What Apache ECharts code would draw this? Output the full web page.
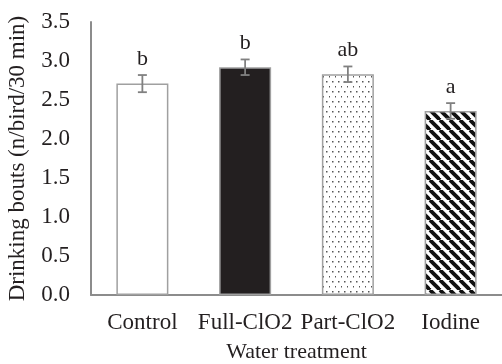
<!DOCTYPE html>
<html><head><meta charset="utf-8">
<script src="https://cdn.jsdelivr.net/npm/echarts@6/dist/echarts.min.js"></script>
<style>html,body{margin:0;padding:0;background:#fff}#c{width:502px;height:364px}</style>
</head><body><div id="c"></div>
<script>
var categories = ['Control', 'Full-ClO2', 'Part-ClO2', 'Iodine'];
var means = [2.71, 2.92, 2.83, 2.36];
var errors = [0.11, 0.10, 0.10, 0.10];
var letters = ['b', 'b', 'ab', 'a'];
var yTicks = [0, 0.5, 1.0, 1.5, 2.0, 2.5, 3.0, 3.5];

function dotPattern() {
  var c = document.createElement('canvas'); c.width = 6; c.height = 10;
  var g = c.getContext('2d'); g.fillStyle = '#fff'; g.fillRect(0, 0, 6, 10);
  g.fillStyle = '#555';
  g.fillRect(2, 1, 1.5, 1.5);
  g.fillRect(5, 6, 1.5, 1.5);
  return c;
}
function stripePattern() {
  var s = 10;
  var c = document.createElement('canvas'); c.width = s; c.height = s;
  var g = c.getContext('2d'); g.fillStyle = '#fff'; g.fillRect(0, 0, s, s);
  g.strokeStyle = '#111'; g.lineWidth = 3.8;
  for (var k = -1; k <= 1; k++) {
    g.beginPath(); g.moveTo(k * s, 0); g.lineTo(k * s + s, s); g.stroke();
  }
  return c;
}
var fills = ['#ffffff', '#231f20', { image: dotPattern(), repeat: 'repeat' }, { image: stripePattern(), repeat: 'repeat' }];

var chart = echarts.init(document.getElementById('c'), null, { renderer: 'canvas' });
var font = '"Liberation Serif", "Times New Roman", serif';
chart.setOption({
  animation: false,
  grid: { left: 91, right: 0, top: 22, bottom: 69, containLabel: false, outerBoundsMode: 'none' },
  xAxis: {
    type: 'category', data: categories,
    axisLine: { lineStyle: { color: '#8c8c8c', width: 2 } },
    axisTick: { show: false },
    axisLabel: { interval: 0, color: '#231f20', fontFamily: font, fontSize: 23, margin: 16 },
    name: 'Water treatment', nameLocation: 'middle', nameGap: 46,
    nameTextStyle: { color: '#231f20', fontFamily: font, fontSize: 22 }
  },
  yAxis: {
    type: 'value', min: 0, max: 3.5, interval: 0.5,
    axisLine: { show: true, lineStyle: { color: '#8c8c8c', width: 2 } },
    axisTick: { show: false },
    splitLine: { show: false },
    axisLabel: { color: '#231f20', fontFamily: font, fontSize: 23, margin: 21,
      formatter: function (v) { return v.toFixed(1); } },
    name: 'Drinking bouts (n/bird/30 min)', nameLocation: 'middle', nameGap: 62,
    nameTextStyle: { color: '#231f20', fontFamily: font, fontSize: 23 }
  },
  series: [{
    type: 'bar', barWidth: 52,
    data: means.map(function (v, i) {
      return { value: v, itemStyle: { color: fills[i], borderColor: '#a0a0a0', borderWidth: 1.5 } };
    })
  }, {
    type: 'custom',
    data: means.map(function (v, i) { return [i, v - errors[i], v + errors[i], letters[i]]; }),
    renderItem: function (params, api) {
      var x = api.coord([api.value(0), 0])[0];
      var lo = api.coord([api.value(0), api.value(1)])[1];
      var hi = api.coord([api.value(0), api.value(2)])[1];
      var w = 4.5;
      var st = { stroke: '#808080', lineWidth: 1.8 };
      return { type: 'group', children: [
        { type: 'line', shape: { x1: x, y1: lo, x2: x, y2: hi }, style: st },
        { type: 'line', shape: { x1: x - w, y1: lo, x2: x + w, y2: lo }, style: st },
        { type: 'line', shape: { x1: x - w, y1: hi, x2: x + w, y2: hi }, style: st },
        { type: 'text', style: { text: letters[params.dataIndex], x: x, y: hi - 5,
            textAlign: 'center', textVerticalAlign: 'bottom', fill: '#231f20',
            font: '22px ' + font } }
      ] };
    },
    z: 5
  }]
});
</script></body></html>
